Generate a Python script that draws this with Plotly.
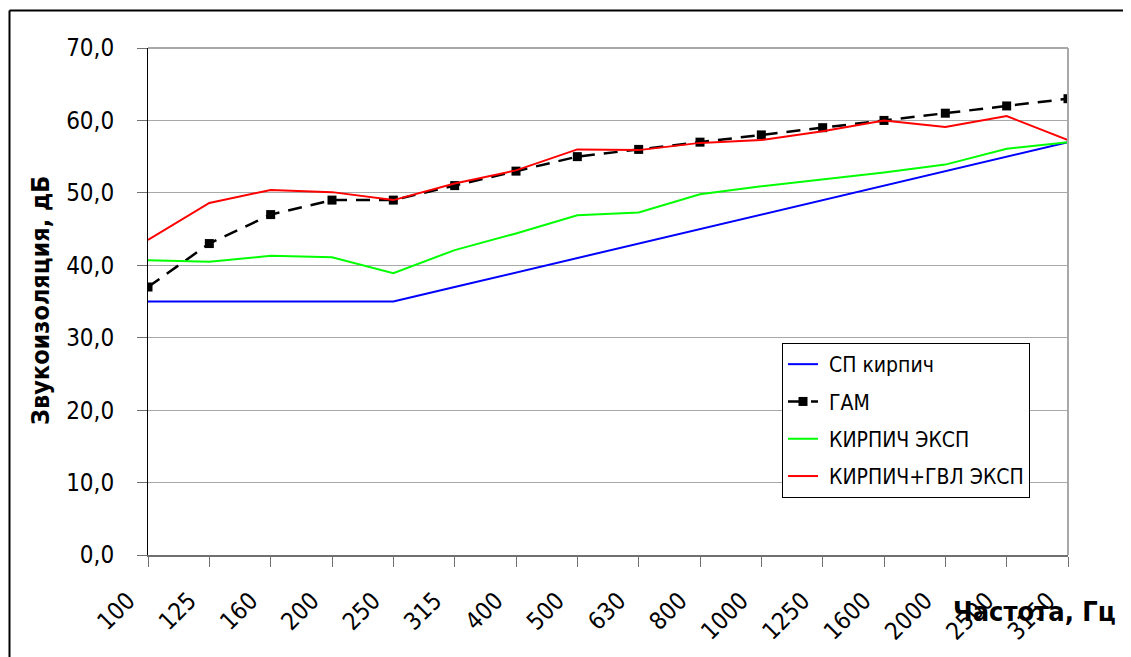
import plotly.graph_objects as go

freqs = ["100", "125", "160", "200", "250", "315", "400", "500", "630", "800",
         "1000", "1250", "1600", "2000", "2500", "3150"]
sp_kirpich = [35, 35, 35, 35, 35, 37, 39, 41, 43, 45, 47, 49, 51, 53, 55, 57]
gam = [37, 43, 47, 49, 49, 51, 53, 55, 56, 57, 58, 59, 60, 61, 62, 63]
kirpich_eksp = [40.7, 40.5, 41.3, 41.1, 38.9, 42.1, 44.4, 46.9, 47.3, 49.8, 50.9, 51.8, 52.8, 53.9, 56.1, 57.0]
kirpich_gvl_eksp = [43.5, 48.6, 50.4, 50.1, 49.0, 51.3, 53.1, 56.0, 55.9, 56.9, 57.3, 58.5, 60.0, 59.1, 60.6, 57.3]
y_ticks = [0, 10, 20, 30, 40, 50, 60, 70]

FONT = "DejaVu Sans Condensed, DejaVu Sans, sans-serif"

# page offset of the figure (body margin)
OFF = 8
PAGE_W, PAGE_H = 1131, 657
W, H = PAGE_W - OFF, PAGE_H - OFF
# desired plot area in page pixels
L, R, T, B = 148, 1068, 48, 555

def px_x(p):
    return (p - L) / (R - L)

def px_y(p):
    return (B - p) / (B - T)

NB = "\u00a0"

fig = go.Figure()
fig.add_trace(go.Scatter(x=freqs, y=sp_kirpich, name=NB + "СП кирпич", mode="lines",
                         line=dict(color="#0000FF", width=2), legendgroup="a"))
fig.add_trace(go.Scatter(x=freqs, y=gam, name=NB + "ГАМ", mode="lines+markers",
                         line=dict(color="#000000", width=2.5, dash="14px,9px"),
                         marker=dict(symbol="square", size=9, color="#000000"),
                         legendgroup="b"))
fig.add_trace(go.Scatter(x=freqs, y=kirpich_eksp, name=NB + "КИРПИЧ ЭКСП", mode="lines",
                         line=dict(color="#00FF00", width=2), legendgroup="c"))
fig.add_trace(go.Scatter(x=freqs, y=kirpich_gvl_eksp, name=NB + "КИРПИЧ+ГВЛ ЭКСП", mode="lines",
                         line=dict(color="#FF0000", width=2), legendgroup="d"))

fig.update_layout(
    width=W, height=H,
    margin=dict(l=L - OFF, r=PAGE_W - R, t=T - OFF, b=PAGE_H - B, pad=0,
                autoexpand=False),
    paper_bgcolor="white", plot_bgcolor="white",
    separators=", ",
    font=dict(family=FONT, size=24, color="#000000"),
    showlegend=True,
    legend=dict(x=px_x(782), y=px_y(343), xanchor="left", yanchor="top",
                bordercolor="#000000", borderwidth=1, bgcolor="white",
                font=dict(family=FONT, size=21), tracegroupgap=7,
                itemwidth=30),
    xaxis=dict(type="category", range=[0, 15], showgrid=False, automargin=False,
               showline=True, linecolor="#707070", linewidth=2, mirror=False,
               ticks="outside", ticklen=10, tickcolor="#707070", tickwidth=1,
               tickangle=-45, tickfont=dict(family=FONT, size=24),
               ticklabelstandoff=10, ticklabelshift=-20),
    yaxis=dict(range=[0, 70], tickvals=y_ticks, tickformat=".1f", automargin=False,
               showgrid=True, gridcolor="#a8a8a8", gridwidth=1,
               showline=True, linecolor="#000000", linewidth=1,
               ticks="outside", ticklen=10, tickcolor="#707070",
               tickfont=dict(family=FONT, size=24), ticklabelstandoff=18,
               zeroline=False),
)

# y-axis title
fig.add_annotation(text="<b>Звукоизоляция, дБ</b>", xref="paper", yref="paper",
                   x=px_x(40), y=px_y(301), textangle=-90, showarrow=False,
                   xanchor="center", yanchor="middle",
                   font=dict(family=FONT, size=25))
# x-axis title
fig.add_annotation(text="<b>Частота, Гц</b>", xref="paper", yref="paper",
                   x=px_x(1118), y=px_y(611), showarrow=False,
                   xanchor="right", yanchor="middle",
                   font=dict(family=FONT, size=27))

# plot-area border (top and right, gray)
fig.add_shape(type="line", xref="paper", yref="paper", x0=0, x1=1, y0=1, y1=1,
              line=dict(color="#a8a8a8", width=2))
fig.add_shape(type="line", xref="paper", yref="paper", x0=1, x1=1, y0=0, y1=1,
              line=dict(color="#a8a8a8", width=2))
# outer frame (left and top)
fig.add_shape(type="line", xref="paper", yref="paper",
              x0=px_x(9.5), x1=px_x(9.5), y0=px_y(10.5), y1=px_y(700),
              line=dict(color="#000000", width=2))
fig.add_shape(type="line", xref="paper", yref="paper",
              x0=px_x(9.5), x1=px_x(1200), y0=px_y(10.5), y1=px_y(10.5),
              line=dict(color="#000000", width=2))

fig.write_html("out.html")
